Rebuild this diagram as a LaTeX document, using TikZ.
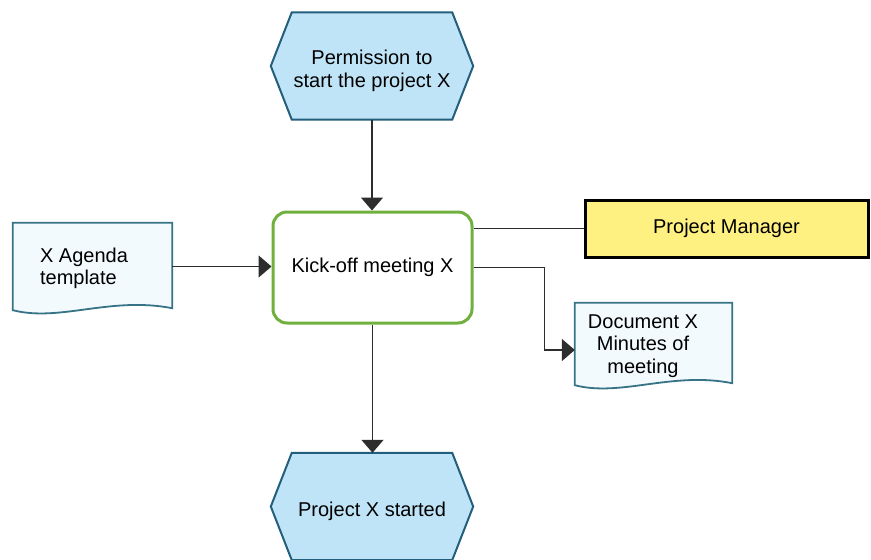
\documentclass[tikz,border=0pt]{standalone}
\usepackage{fontspec}
\setmainfont{Liberation Sans}
\usetikzlibrary{arrows.meta,backgrounds,calc}

\definecolor{evtfill}{RGB}{192,228,247}
\definecolor{evtline}{RGB}{35,95,125}
\definecolor{docfill}{RGB}{243,250,254}
\definecolor{docline}{RGB}{55,115,135}
\definecolor{fnline}{RGB}{112,176,62}
\definecolor{orgfill}{RGB}{255,240,130}
\definecolor{flow}{RGB}{45,45,45}

\begin{document}
\begin{tikzpicture}[x=1pt,y=-1pt,
  font=\fontsize{20}{22.5}\selectfont,
  box/.style={rectangle, inner sep=0pt, align=center},
  event/.style={box, minimum width=160, minimum height=107},
  func/.style={box, draw=fnline, line width=3pt, rounded corners=14pt,
    fill=white, minimum width=199, minimum height=111},
  org/.style={box, draw=black, line width=3pt, fill=orgfill,
    minimum width=283, minimum height=57},
  doc/.style={box},
  label text/.style={inner sep=0pt},
  evtshape/.style={fill=evtfill, draw=evtline, line width=2pt, line join=miter},
  docshape/.style={fill=docfill, draw=docline, line width=1.8pt},
  flowline/.style={draw=flow, line width=1.4pt},
  arr/.style={flowline, -{Triangle[width=22pt,length=13pt]}}
]
\useasboundingbox (0,0) rectangle (871,560);

% events (hexagon outlines) and their texts
\node[event] (perm)    at (372,66)    {};
\node[label text, align=center] (permtext) at (372,71) {Permission to\\start the project X};
\node[event] (started) at (372,506.5) {};
\node[label text] (startedtext) at (372,511) {Project X started};

% function and organisational unit
\node[func] (kick) at (372.5,267.5) {\raisebox{-2pt}{Kick-off meeting X}};
\node[org]  (pm)   at (726.5,228.5) {Project Manager};

% documents (outlines) and their texts
\node[doc] (agenda) at (92.5,266.5) [minimum width=159, minimum height=87] {};
\node[label text, align=left] (agendatext) at (84,268.5) {X Agenda\\template};
\node[doc] (docx) at (653.5,344) [minimum width=157, minimum height=82] {};
\node[label text, align=center] (docxtext) at (643,346) {Document X\\Minutes of\\meeting};

\begin{scope}[on background layer]
  \fill[white] (0,0) rectangle (871,560);
  \foreach \n in {perm,started}
    \path[evtshape] (\n.north west) -- (\n.north east) -- ($(\n.east)+(21,0)$)
      -- (\n.south east) -- (\n.south west) -- ($(\n.west)+(-21,0)$) -- cycle;
  \path[docshape] (agenda.south west) .. controls +(47,12) and +(-62,-12)
      .. ($(agenda.south east)+(0,-2)$) -- (agenda.north east)
      -- (agenda.north west) -- cycle;
  \path[docshape] (docx.south west) .. controls +(46,12) and +(-60,-12)
      .. ($(docx.south east)+(0,-2)$) -- (docx.north east)
      -- (docx.north west) -- cycle;
\end{scope}

% connectors
\draw[arr] (perm.south) -- (perm.south |- kick.north);
\draw[arr] (kick.south) -- (kick.south |- started.north);
\draw[arr] (agenda.east) -- (agenda.east -| kick.west);
\draw[flowline] (pm.west) -- (pm.west -| kick.east);
\draw[arr] (kick.east) -- ++(71,0) |- ([yshift=-6pt]docx.west);
\end{tikzpicture}
\end{document}
